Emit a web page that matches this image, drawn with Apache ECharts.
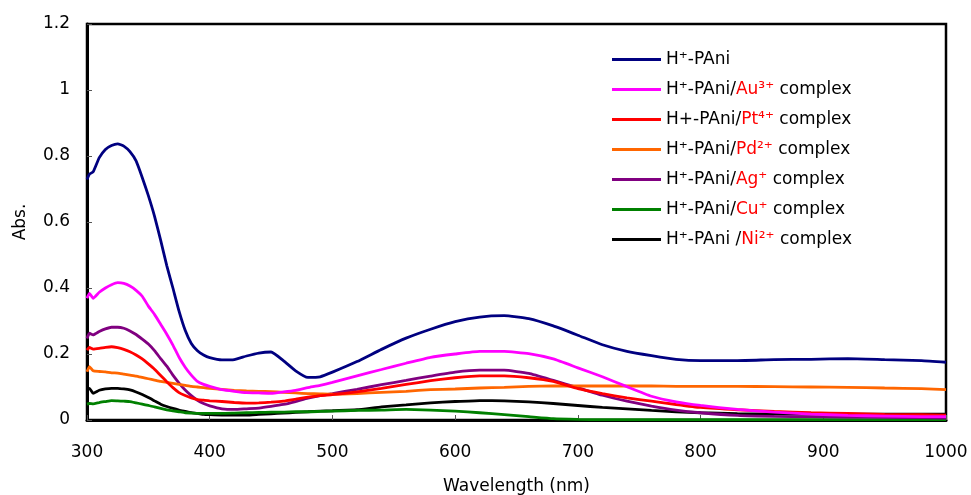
<!DOCTYPE html>
<html>
<head>
<meta charset="utf-8">
<script src="https://cdn.jsdelivr.net/npm/echarts@6/dist/echarts.min.js"></script>
<style>html,body{margin:0;padding:0;background:#fff}#c{width:971px;height:495px}</style>
</head>
<body>
<div id="c"></div>
<script>
const wavelengths = [300,302,305,310,315,320,325,330,335,340,345,350,355,360,365,370,375,380,385,390,395,400,410,420,430,440,450,460,470,480,490,500,520,540,560,580,600,620,640,660,680,700,720,740,760,780,800,830,860,890,920,950,980,1000];

const pani = [0.729,0.745,0.752,0.795,0.820,0.832,0.837,0.830,0.813,0.785,0.735,0.680,0.618,0.545,0.468,0.400,0.330,0.272,0.232,0.210,0.197,0.189,0.182,0.183,0.194,0.203,0.206,0.180,0.149,0.129,0.131,0.145,0.177,0.214,0.248,0.275,0.298,0.312,0.316,0.307,0.285,0.257,0.228,0.208,0.195,0.184,0.180,0.180,0.183,0.184,0.186,0.183,0.180,0.175];
const au = [0.369,0.384,0.369,0.387,0.400,0.410,0.416,0.414,0.406,0.393,0.375,0.345,0.320,0.290,0.260,0.227,0.190,0.160,0.136,0.117,0.108,0.102,0.092,0.087,0.083,0.082,0.081,0.085,0.090,0.098,0.105,0.114,0.134,0.153,0.172,0.190,0.200,0.208,0.208,0.201,0.185,0.158,0.131,0.101,0.072,0.055,0.044,0.032,0.024,0.018,0.014,0.012,0.010,0.010];
const pt = [0.212,0.220,0.215,0.217,0.220,0.222,0.219,0.214,0.207,0.197,0.185,0.170,0.154,0.135,0.116,0.098,0.083,0.074,0.067,0.062,0.060,0.058,0.056,0.053,0.051,0.052,0.054,0.057,0.063,0.069,0.074,0.077,0.085,0.096,0.108,0.119,0.128,0.134,0.134,0.128,0.117,0.095,0.080,0.067,0.057,0.047,0.038,0.031,0.026,0.022,0.020,0.017,0.016,0.015];
const pd = [0.146,0.162,0.149,0.147,0.146,0.143,0.142,0.139,0.136,0.133,0.129,0.125,0.121,0.117,0.114,0.111,0.108,0.105,0.102,0.100,0.098,0.096,0.093,0.090,0.088,0.087,0.086,0.084,0.082,0.080,0.079,0.078,0.080,0.084,0.087,0.092,0.094,0.097,0.099,0.102,0.103,0.103,0.103,0.103,0.103,0.102,0.102,0.102,0.101,0.100,0.099,0.097,0.095,0.092];
const ag = [0.247,0.263,0.258,0.268,0.276,0.281,0.281,0.278,0.270,0.259,0.245,0.230,0.210,0.186,0.163,0.136,0.112,0.091,0.074,0.060,0.050,0.043,0.034,0.032,0.034,0.036,0.041,0.047,0.056,0.066,0.074,0.080,0.093,0.107,0.120,0.133,0.145,0.151,0.151,0.141,0.120,0.098,0.075,0.057,0.042,0.030,0.022,0.014,0.011,0.010,0.009,0.008,0.007,0.006];
const cu = [0.048,0.050,0.049,0.053,0.056,0.059,0.058,0.057,0.056,0.052,0.048,0.044,0.040,0.035,0.031,0.028,0.025,0.022,0.021,0.020,0.020,0.020,0.020,0.021,0.022,0.023,0.024,0.024,0.025,0.025,0.026,0.027,0.029,0.030,0.032,0.030,0.027,0.022,0.016,0.010,0.004,0.002,0.001,0.001,0.001,0.001,0.001,0.001,0.001,0.001,0.001,0.001,0.001,0.001];
const ni = [0.091,0.096,0.081,0.090,0.094,0.096,0.096,0.094,0.091,0.085,0.077,0.068,0.058,0.048,0.041,0.035,0.030,0.026,0.022,0.020,0.017,0.016,0.015,0.015,0.015,0.017,0.019,0.021,0.023,0.025,0.027,0.028,0.031,0.040,0.046,0.052,0.056,0.059,0.058,0.055,0.050,0.044,0.038,0.034,0.029,0.025,0.022,0.019,0.018,0.018,0.018,0.018,0.018,0.018];

const seriesNames = ["H⁺-PAni","H⁺-PAni/Au³⁺ complex","H+-PAni/Pt⁴⁺ complex","H⁺-PAni/Pd²⁺ complex","H⁺-PAni/Ag⁺ complex","H⁺-PAni/Cu⁺ complex","H⁺-PAni /Ni²⁺ complex"];
const legendRich = [
  "{n|H⁺-PAni}",
  "{n|H⁺-PAni/}{r|Au³⁺}{n| complex}",
  "{n|H+-PAni/}{r|Pt⁴⁺}{n| complex}",
  "{n|H⁺-PAni/}{r|Pd²⁺}{n| complex}",
  "{n|H⁺-PAni/}{r|Ag⁺}{n| complex}",
  "{n|H⁺-PAni/}{r|Cu⁺}{n| complex}",
  "{n|H⁺-PAni /}{r|Ni²⁺}{n| complex}"
];
const seriesValues = [pani, au, pt, pd, ag, cu, ni];
const colors = ["#000080","#FF00FF","#FF0000","#FF6600","#800080","#008000","#000000"];
const yTicks = {min:0, max:1.2, interval:0.2};
const xTicks = {min:300, max:1000, interval:100};

const FONT = "DejaVu Sans";
const chart = echarts.init(document.getElementById('c'), null, {renderer:'canvas'});
const series = seriesValues.map((vals, i) => ({
  name: seriesNames[i],
  type: 'line',
  data: wavelengths.map((w, j) => [w, vals[j]]),
  showSymbol: false,
  symbol: 'none',
  smooth: 0.15,
  lineStyle: {color: colors[i], width: 2.8},
  itemStyle: {color: colors[i]},
  z: 10 - i
}));

chart.setOption({
  animation: false,
  backgroundColor: '#fff',
  grid: {left: 87, right: 25, top: 24, bottom: 75, containLabel: false, outerBoundsMode: 'none', show: true, borderColor: '#000', borderWidth: 2.5, backgroundColor: 'transparent'},
  legend: {
    orient: 'vertical',
    left: 607,
    top: 46,
    itemWidth: 49,
    itemHeight: 3,
    itemGap: 13,
    icon: 'rect',
    data: seriesNames,
    formatter: function(name){ return legendRich[seriesNames.indexOf(name)]; },
    textStyle: {
      fontFamily: FONT,
      rich: {
        n: {fontFamily: FONT, fontSize: 17, color: '#000', lineHeight: 20},
        r: {fontFamily: FONT, fontSize: 17, color: '#FF0000', lineHeight: 20}
      }
    }
  },
  xAxis: {
    type: 'value',
    min: xTicks.min, max: xTicks.max, interval: xTicks.interval,
    name: 'Wavelength (nm)',
    nameLocation: 'middle',
    nameGap: 58,
    nameTextStyle: {fontFamily: FONT, fontSize: 17, color: '#000'},
    axisLine: {lineStyle: {color: '#000', width: 3}},
    axisTick: {inside: true, length: 5, lineStyle: {color: '#555', width: 1}},
    axisLabel: {fontFamily: FONT, fontSize: 17, color: '#000', margin: 24, formatter: function(v){ return String(v); }},
    splitLine: {show: false}
  },
  yAxis: {
    type: 'value',
    min: yTicks.min, max: yTicks.max, interval: yTicks.interval,
    name: 'Abs.',
    nameLocation: 'middle',
    nameGap: 58,
    nameTextStyle: {fontFamily: FONT, fontSize: 17, color: '#000'},
    axisLine: {lineStyle: {color: '#000', width: 3}},
    axisTick: {inside: true, length: 5, lineStyle: {color: '#555', width: 1}},
    axisLabel: {fontFamily: FONT, fontSize: 17, color: '#000', margin: 17},
    splitLine: {show: false}
  },
  series: series
});
</script>
</body>
</html>
